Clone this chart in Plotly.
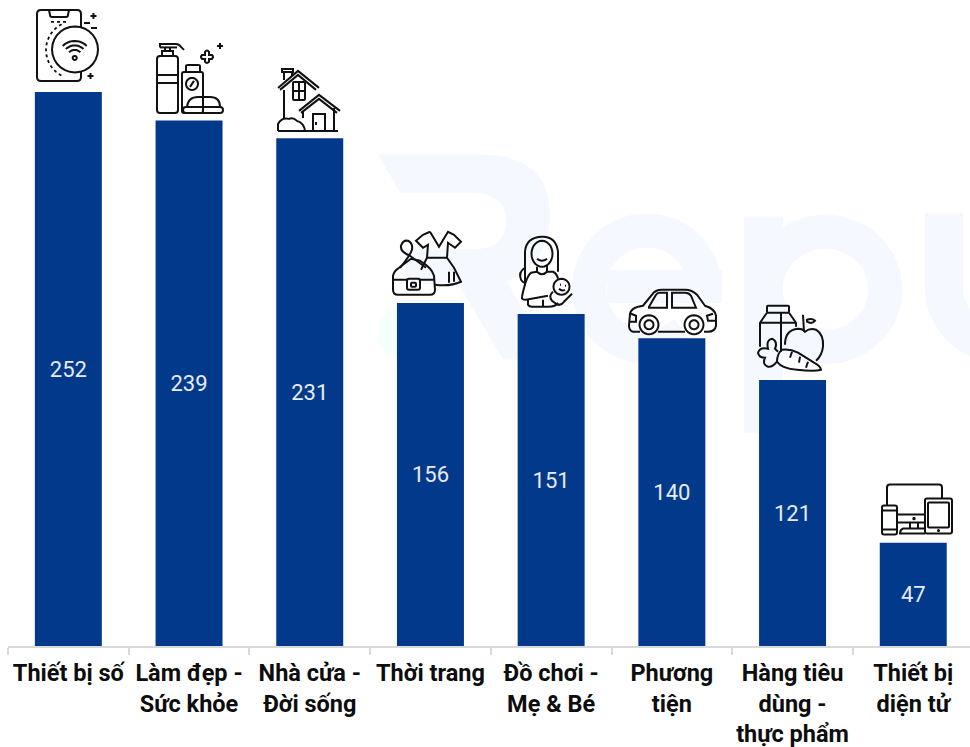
import math
import re
import plotly.graph_objects as go

categories = ["Thiết bị số", "Làm đẹp -<br>Sức khỏe", "Nhà cửa -<br>Đời sống", "Thời trang",
              "Đồ chơi -<br>Mẹ & Bé", "Phương<br>tiện", "Hàng tiêu<br>dùng -<br>thực phẩm", "Thiết bị<br>diện tử"]
values = [252, 239, 231, 156, 151, 140, 121, 47]

BAR = "#03398A"
INK = "#111111"
PALE = "#F5F8FF"
W, H = 970, 747
ML, MB = 8, 100.5
STEP = 120.7
Y_SCALE = 2.2
PLOT_H = H - MB
Y_MAX = PLOT_H / Y_SCALE


def poly(*pts, close=False):
    s = "M" + " L".join(f"{x} {y}" for x, y in pts)
    return s + (" Z" if close else "")


def arc(cx, cy, rx, ry=None, a0=0, a1=360, n=28):
    ry = rx if ry is None else ry
    pts = []
    for i in range(n + 1):
        a = math.radians(a0 + (a1 - a0) * i / n)
        pts.append((round(cx + rx * math.cos(a), 2), round(cy + ry * math.sin(a), 2)))
    return pts


def circ(cx, cy, r, ry=None):
    return poly(*arc(cx, cy, r, ry), close=True)


def rrect(x0, y0, x1, y1, r=2):
    return (f"M{x0+r} {y0} L{x1-r} {y0} Q{x1} {y0} {x1} {y0+r} L{x1} {y1-r} Q{x1} {y1} {x1-r} {y1} "
            f"L{x0+r} {y1} Q{x0} {y1} {x0} {y1-r} L{x0} {y0+r} Q{x0} {y0} {x0+r} {y0} Z")


def plus(cx, cy, s):
    return f"M{cx-s} {cy} L{cx+s} {cy} M{cx} {cy-s} L{cx} {cy+s}"


icons = [
    [  # digital devices
        "M81 27 L81 14 Q81 10 77 10 L41 10 Q37 10 37 14 L37 77 Q37 81 41 81 L77 81 Q81 81 81 77 L81 72",
        "M49 10 L50 15 Q50 17 52 17 L66 17 Q68 17 68 15 L69 10",
        circ(75, 49.5, 23),
        poly(*arc(74.7, 58, 17, a0=225, a1=315, n=10)),
        poly(*arc(74.7, 58, 12.5, a0=225, a1=315, n=10)),
        poly(*arc(74.7, 58, 8, a0=225, a1=315, n=10)),
        circ(74.7, 58, 2),
        plus(93.5, 16, 3), plus(90.5, 76, 3),
        "M84 23 L90 23 M91 28 L97 28",
    ],
    [  # beauty
        rrect(157, 56, 178, 113, 3),
        "M157 75 L178 75 M157 83 L178 83",
        "M162 56 L162 51 L173 51 L173 56 M165 51 L165 47 M170 51 L170 47",
        "M160 47.5 L160 44 L176 44 Q179 44 181 47 L184 50",
        "M160 47.5 L177 47.5",
        rrect(182, 72, 203, 113, 2),
        "M186 72 L186 66 Q186 65 188 65 L198 65 Q200 65 200 66 L200 72",
        circ(192, 84, 6), "M190 87 L194 81",
        "M187 107 Q188 97 198 97 L210 97 Q220 97 220 107",
        rrect(183, 107, 223, 113, 3),
        "M202 55 L205 55 L205 52 Q207 49 209 52 L209 55 L212 55 Q214 57 212 59 L209 59 L209 62 Q207 64 205 62 L205 59 L202 59 Q200 57 202 55 Z",
        plus(220, 46, 3),
    ],
    [  # home
        "M278 88 L298 71 L319 88 M280 90 L298 75 L316 90",
        "M284 80 L284 72 M292 76 L292 72 M282 69 L293 69 L293 72 L282 72 Z",
        "M284 90 L284 118",
        rrect(293, 82, 305, 100, 1),
        "M299 82 L299 100 M293 91 L305 91",
        "M299 111 L319 95 L340 111 M301 113 L319 99 L337 113",
        "M334 108 L334 131 M303 112 L303 118",
        "M313 131 L313 114 L325 114 L325 131 M316 122 L316 125",
        "M278 131 L338 131",
        "M278 131 L278 124 Q282 117 289 119 Q293 117 297 121 Q304 123 305 131",
    ],
    [  # fashion
        "M393 276 Q394 271 399 268 L411 259 L420 261 Q432 268 434 276 L435 290 Q435 295 430 295 L398 295 Q393 295 393 290 Z",
        "M393 280 L407 280 M420 280 L435 280",
        rrect(407, 279, 420, 290, 2),
        rrect(411, 283, 416, 287, 1),
        "M426 268 L410 256 Q400 252 401 246 Q403 240 408 241 Q413 243 412 250 Q410 256 400 268",
        "M430 232 L439 247 L448 232 L454 235 L461 242 L455 248 L448 243 L447 258 L454 268 L461 282 Q450 287 435 285",
        "M430 232 L423 235 L416 241 L423 248 L428 245 L427 258 L421 270",
        "M427 258 L447 258",
        "M449 272 L449 283 M454 272 L454 282",
    ],
    [  # toys and babies
        "M525 286 L525 252 Q526 238 541 237 Q556 236 558 252 L558 272",
        "M525 268 Q518 272 521 280 Q523 283 525 283",
        poly(*arc(542, 254, 10.5, 13)),
        "M537 259 Q542 263 547 259",
        "M537 267 L537 272 Q542 277 547 272 L547 266",
        "M537 272 L531 273 Q526 277 522 297 Q521 300 526 300 L548 296",
        "M547 272 L553 272 Q557 274 558 279",
        circ(561.5, 287, 8),
        "M553 292 Q548 296 552 301 L556 304 Q560 307 564 302 L572 294",
        "M528 300 L528 305 Q529 307 532 307 L548 307 Q556 307 558 303",
        "M543 300 L543 307",
        "M560 285 L561 285 M565 286 L566 286 M559 289 Q562 292 565 290",
    ],
    [  # vehicle
        "M640 332 L633 332 Q629 331 629 326 L630 314 Q631 309 638 307 L643 306 L652 295 Q655 290 662 290 L685 290 Q692 290 697 295 L705 306 Q715 309 716 316 L716 326 Q715 332 708 332 L704 332",
        "M658 332 L685 332",
        "M649 307 L656 295 Q657 293 660 293 L667 293 L667 308 L649 308 Z",
        "M672 293 L685 293 Q689 293 691 296 L696 308 L672 308 Z",
        circ(649, 325, 9.5), circ(649, 325, 4.5),
        circ(694, 325, 9.5), circ(694, 325, 4.5),
        "M631 314 L636 316 L636 322 L630 322 M713 314 L707 316 L708 321 L716 321",
    ],
    [  # consumer goods
        rrect(767, 306, 789, 313, 1),
        "M767 313 L760 323 L760 347 M789 313 L796 323 L796 327",
        "M781 313 L781 352 M760 323 L796 323",
        "M785 345 Q785 330 798 329 Q803 329 805 332 Q810 328 816 330 Q824 335 823 347 Q822 356 816 361",
        "M803 315 L804 332",
        "M807 320 Q812 318 815 321 Q812 325 807 322 Z",
        "M782 350 Q790 349 798 353 L814 363 Q820 366 821 370 Q815 372 797 370 Q782 369 777 362 Q777 354 782 350 Z",
        "M778 352 L775 349 Q778 342 772 339 Q766 340 768 349 Q760 347 758 353 Q759 358 765 358 Q762 365 768 367 Q772 368 777 362",
        "M792 352 L790 358 M800 357 L799 363 M808 362 L806 368",
    ],
    [  # electronics
        "M887 506 L887 488 Q887 485 890 485 L939 485 Q942 485 942 488 L942 499",
        rrect(882, 506, 897, 535, 2),
        "M882 511 L897 511 M882 530 L897 530",
        rrect(925, 499, 952, 534, 2),
        rrect(928, 503, 949, 528, 1),
        circ(938.5, 531, 0.5),
        "M897 515 L925 515 M897 523 L925 523",
        circ(914, 519, 0.7),
        "M910 523 L910 529 M918 523 L918 529",
        "M925 529 L903 529 Q900 530 900 534 L925 534",
    ],
]
icon_dots = [
    ["M51 22 L67 22", poly(*arc(75, 50, 29, a0=118, a1=245, n=20))],
    [], [], [], [], [], [], [],
]

# Faint brand logo behind the bars, in page pixels: (outline, fill, stroke width)
logo = [
    ("M378 155 L481 155 Q550 155 550 217 Q550 262 507 282 L550 360 L503 360 L460 287 L405 283 L405 250 "
     "L470 250 Q506 250 506 222 Q506 193 470 193 L400 193 Z", PALE, 0),
    (circ(400, 333, 22, 25), "#F5FFFE", 0),
    (poly(*arc(647, 289, 58, 58, a0=-3, a1=-310, n=50)), None, 34),
    ("M607 287 L722 287", None, 33),
    ("M763.5 217 L763.5 433", None, 39),
    (circ(825.5, 290, 60, 58), None, 34),
    ("M944 214 L944 290 L" + " L".join(f"{x} {y}" for x, y in arc(1014, 290, 70, 58, a0=180, a1=120, n=12)),
     None, 38),
]

NUM = re.compile(r"-?\d+(?:\.\d+)?")


def to_anchor(path, ax, ay):
    k = {"n": 0}

    def repl(m):
        v = float(m.group())
        k["n"] += 1
        return f"{v - ax:.2f}" if k["n"] % 2 else f"{ay - v:.2f}"

    return NUM.sub(repl, path)


shapes = []
for p, fill, lw in logo:
    shapes.append(dict(type="path", path=to_anchor(p, 0, H), xref="paper", yref="paper", xsizemode="pixel",
                       ysizemode="pixel", xanchor=-ML / (W - ML), yanchor=-MB / PLOT_H, layer="below",
                       line=dict(color=PALE, width=lw), fillcolor=fill or "rgba(0,0,0,0)"))
for i, group in enumerate(icons):
    cx = ML + STEP * (i + 0.5)
    top = PLOT_H - Y_SCALE * values[i]
    for p in group:
        shapes.append(dict(type="path", path=to_anchor(p, cx, top), xref="x", yref="y", xsizemode="pixel",
                           ysizemode="pixel", xanchor=i, yanchor=values[i], layer="above",
                           line=dict(color=INK, width=2), fillcolor="rgba(0,0,0,0)"))
    for p in icon_dots[i]:
        shapes.append(dict(type="path", path=to_anchor(p, cx, top), xref="x", yref="y", xsizemode="pixel",
                           ysizemode="pixel", xanchor=i, yanchor=values[i], layer="above",
                           line=dict(color=INK, width=1.8, dash="dot"), fillcolor="rgba(0,0,0,0)"))

fig = go.Figure(go.Bar(
    x=categories, y=values, width=0.555, marker=dict(color=BAR, line=dict(width=0)),
    text=values, textposition="inside", insidetextanchor="middle", textangle=0,
    textfont=dict(family="Roboto", size=22, color="#E6ECF6"),
))
fig.update_layout(
    width=W, height=H, margin=dict(l=ML, r=0, t=0, b=MB), showlegend=False,
    plot_bgcolor="rgba(0,0,0,0)", paper_bgcolor="white", shapes=shapes,
    font=dict(family="Roboto"),
)
fig.update_xaxes(
    type="category", range=[-0.5, -0.5 + (W - ML) / STEP], tickson="boundaries", ticks="outside",
    ticklen=7, tickwidth=1.5, tickcolor="#D9D9D9", showline=True, linecolor="#D9D9D9", linewidth=2,
    showgrid=False, tickangle=0, automargin=False, ticklabelstandoff=5,
    tickfont=dict(family="Roboto", size=23.5, color="#0D0D0D", weight="bold"),
)
fig.update_yaxes(range=[0, Y_MAX], visible=False, showgrid=False, zeroline=False)
fig.write_html("out.html", config=dict(displayModeBar=False),
               post_script="document.body.style.margin='0';document.documentElement.style.overflow='hidden';")
